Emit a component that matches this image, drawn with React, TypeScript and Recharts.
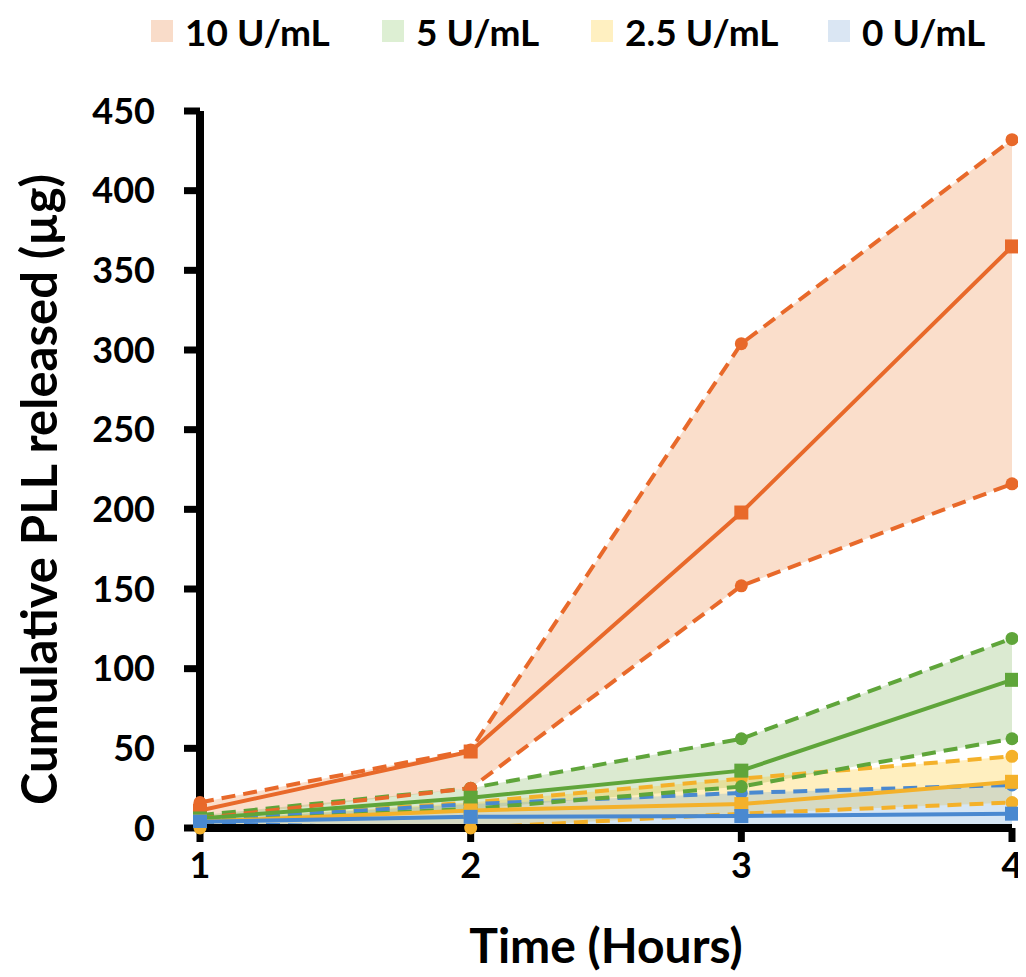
import React from "react";
import {
  ComposedChart,
  Area,
  Line,
  XAxis,
  YAxis,
  Legend,
  Label,
} from "recharts";

const FONT = "Lato, 'Open Sans', sans-serif";

const hours = [1, 2, 3, 4];
const yTicks = [0, 50, 100, 150, 200, 250, 300, 350, 400, 450];

// 10 U/mL
const u10Mean = [11, 48, 198, 365];
const u10Upper = [16, 49, 304, 432];
const u10Lower = [6, 25, 152, 216];
// 5 U/mL
const u5Mean = [6, 19, 36, 93];
const u5Upper = [8, 25, 56, 119];
const u5Lower = [4, 12, 26, 56];
// 2.5 U/mL
const u25Mean = [4, 11, 15, 29];
const u25Upper = [5, 16, 31, 45];
const u25Lower = [0, 0, 9, 16];
// 0 U/mL (lower bound dips below the axis, hidden in the original)
const u0Mean = [4, 7, 7.5, 9];
const u0Upper = [5, 15, 22, 27];
const u0Lower = [3, -1, -7, -9];

const series = [
  { key: "u10", name: "10 U/mL", line: "#E8692A", fill: "#ED7D31", swatch: "#F9DCC9", width: 231, mean: u10Mean, upper: u10Upper, lower: u10Lower },
  { key: "u5", name: "5 U/mL", line: "#5FA53A", fill: "#70AD47", swatch: "#DDEFD3", width: 209, mean: u5Mean, upper: u5Upper, lower: u5Lower },
  { key: "u25", name: "2.5 U/mL", line: "#F4B12A", fill: "#FFC000", swatch: "#FFF0C1", width: 237, mean: u25Mean, upper: u25Upper, lower: u25Lower },
  { key: "u0", name: "0 U/mL", line: "#4A89D0", fill: "#5B9BD5", swatch: "#DAE6F3", width: 180, mean: u0Mean, upper: u0Upper, lower: u0Lower },
];

const data = hours.map((t, i) => {
  const row: Record<string, any> = { t };
  series.forEach((s) => {
    row[`${s.key}Mean`] = s.mean[i];
    row[`${s.key}Upper`] = s.upper[i];
    row[`${s.key}Lower`] = s.lower[i];
    row[`${s.key}Band`] = [s.lower[i], s.upper[i]];
  });
  return row;
});

const squareDot = (color: string) => (p: any) => {
  if (p.cx == null || p.cy == null) return <g key={p.key} />;
  return (
    <rect key={p.key} x={p.cx - 7} y={p.cy - 7} width={14} height={14} fill={color} />
  );
};

// circles, skipped where the point falls below the axis
const circleDot = (color: string) => (p: any) => {
  if (p.cx == null || p.cy == null || p.value < 0) return <g key={p.key} />;
  return <circle key={p.key} cx={p.cx} cy={p.cy} r={6.5} fill={color} />;
};

const boundDot = (color: string, values: number[]) =>
  values.some((v) => v < 0)
    ? circleDot(color)
    : { r: 6.5, fill: color, stroke: "none", clipDot: false };

const renderLegend = () => (
  <div
    style={{
      display: "flex",
      alignItems: "center",
      whiteSpace: "nowrap",
      paddingLeft: 143,
      paddingTop: 0,
      height: 46,
      fontFamily: FONT,
      fontWeight: 700,
      fontSize: 37,
      color: "#000",
    }}
  >
    {series.map((s) => (
      <div key={s.key} style={{ display: "flex", alignItems: "center", width: s.width, flex: "none" }}>
        <span style={{ display: "inline-block", width: 22, height: 22, background: s.swatch, marginRight: 12 }} />
        <span>{s.name}</span>
      </div>
    ))}
  </div>
);

const tickStyle = { fill: "#000", fontSize: 36, fontWeight: 700, fontFamily: FONT };

export default function App() {
  return (
    <ComposedChart
      width={1018}
      height={965}
      data={data}
      margin={{ top: 0, right: 14, bottom: 0, left: 0 }}
    >
      <Legend
        verticalAlign="top"
        content={renderLegend}
        wrapperStyle={{ top: 0, left: 0, width: 1018, height: 103 }}
      />
      <XAxis
        dataKey="t"
        type="number"
        domain={[1, 4]}
        ticks={hours}
        axisLine={{ stroke: "#000", strokeWidth: 8 }}
        tickLine={{ stroke: "#000", strokeWidth: 7 }}
        tickSize={14}
        tickMargin={10}
        tick={tickStyle}
        height={145}
      >
        <Label
          content={(props: any) => {
            const vb = props.viewBox || { x: 192, y: 820, width: 812 };
            return (
              <text
                x={vb.x + vb.width / 2}
                y={vb.y + 135}
                textAnchor="middle"
                fill="#000"
                fontSize={48}
                fontWeight={700}
                fontFamily={FONT}
              >
                Time (Hours)
              </text>
            );
          }}
        />
      </XAxis>
      <YAxis
        type="number"
        domain={[0, 450]}
        allowDataOverflow
        ticks={yTicks}
        interval={0}
        axisLine={{ stroke: "#000", strokeWidth: 8 }}
        tickLine={{ stroke: "#000", strokeWidth: 7 }}
        tickSize={16}
        tickMargin={29}
        tick={tickStyle}
        width={192}
      >
        <Label
          content={(props: any) => {
            const vb = props.viewBox || { x: 0, y: 103, height: 717 };
            const cx = 30;
            const cy = vb.y + vb.height / 2 + 20;
            return (
              <text
                x={cx}
                y={cy}
                transform={`rotate(-90, ${cx}, ${cy})`}
                textAnchor="middle"
                dominantBaseline="central"
                fill="#000"
                fontSize={49}
                fontWeight={700}
                fontFamily={FONT}
              >
                Cumulative PLL released (µg)
              </text>
            );
          }}
        />
      </YAxis>
      {series.map((s) => (
        <Area
          key={`${s.key}Band`}
          type="linear"
          dataKey={`${s.key}Band`}
          stroke="none"
          fill={s.fill}
          fillOpacity={0.25}
          isAnimationActive={false}
          legendType="none"
        />
      ))}
      {series.map((s) => (
        <Line
          key={`${s.key}Upper`}
          type="linear"
          dataKey={`${s.key}Upper`}
          stroke={s.line}
          strokeWidth={4}
          strokeDasharray="14 8"
          dot={boundDot(s.line, s.upper)}
          activeDot={false}
          isAnimationActive={false}
          legendType="none"
        />
      ))}
      {series.map((s) => (
        <Line
          key={`${s.key}Lower`}
          type="linear"
          dataKey={`${s.key}Lower`}
          stroke={s.line}
          strokeWidth={4}
          strokeDasharray="14 8"
          dot={boundDot(s.line, s.lower)}
          activeDot={false}
          isAnimationActive={false}
          legendType="none"
        />
      ))}
      {series.map((s) => (
        <Line
          key={`${s.key}Mean`}
          type="linear"
          dataKey={`${s.key}Mean`}
          name={s.name}
          stroke={s.line}
          strokeWidth={4}
          dot={squareDot(s.line)}
          activeDot={false}
          isAnimationActive={false}
        />
      ))}
    </ComposedChart>
  );
}
